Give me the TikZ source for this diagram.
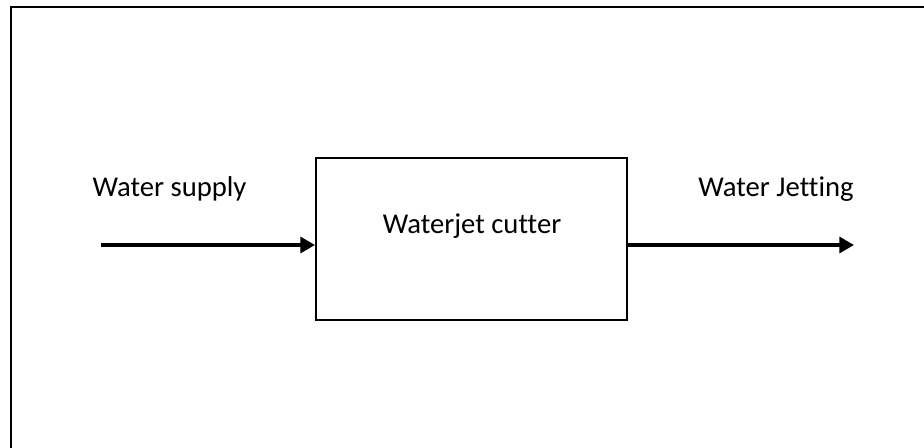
\documentclass[tikz,border=0pt]{standalone}
\usepackage{fontspec}
\setmainfont{Carlito}[Ligatures=NoCommon]
\usetikzlibrary{arrows.meta}

\begin{document}
\begin{tikzpicture}[x=0.75pt,y=-0.75pt,
	flow/.style={line width=2.4pt,-{Triangle[length=11pt,width=12pt]}},
	lbl/.style={font=\fontsize{21.5}{26}\selectfont,anchor=base,inner sep=0pt}]
				\useasboundingbox (0,0) rectangle (924,448);
				\draw[line width=1.8pt] (924,7) -- (11,7) -- (11,448);
				\node[draw,line width=1.5pt,minimum width=233.25pt,minimum height=121.5pt,inner sep=0pt] (cutter) at (471.5,239) {};
				\node[lbl] (cutterlbl) at (472,234) {Waterjet cutter};
				\coordinate (supplyin) at (101,245);
				\coordinate (jetout) at (854,245);
				\draw[flow] (supplyin) -- (supplyin -| cutter.west);
				\draw[flow] (jetout -| cutter.east) -- (jetout);
				\node[lbl] (supply) at (169.5,197) {Water supply};
				\node[lbl] (jetting) at (776,197) {Water Jetting};
			\end{tikzpicture}
\end{document}
